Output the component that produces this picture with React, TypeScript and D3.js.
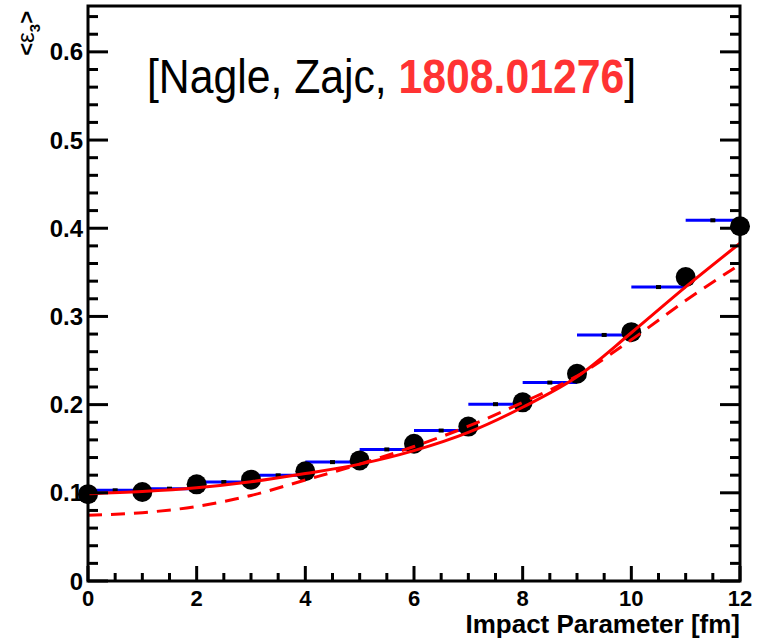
import React from "react";
import * as d3 from "d3";

// ---- data ----
const impactB = [0, 1, 2, 3, 4, 5, 6, 7, 8, 9, 10, 11, 12];
const pointEps3 = [0.0985, 0.1009, 0.1096, 0.1149, 0.1245, 0.1367, 0.1556, 0.1751, 0.2026, 0.235, 0.2822, 0.3446, 0.4023];

const histLow = [0, 1, 2, 3, 4, 5, 6, 7, 8, 9, 10, 11];
const histEps3 = [0.1028, 0.1047, 0.1122, 0.1198, 0.1348, 0.1492, 0.1706, 0.2005, 0.225, 0.279, 0.3333, 0.409];

const solidB = [0, 1, 2, 3, 4, 5, 6, 7, 8, 9, 10, 11, 12];
const solidEps3 = [0.099, 0.1015, 0.1057, 0.1125, 0.1218, 0.1325, 0.1478, 0.1685, 0.197, 0.2315, 0.2815, 0.3335, 0.383];

const dashedB = [0, 1, 2, 3, 4, 5, 6, 7, 8, 9, 10, 11, 11.9];
const dashedEps3 = [0.0745, 0.0775, 0.0845, 0.097, 0.1145, 0.1325, 0.1525, 0.1755, 0.2025, 0.2325, 0.2735, 0.318, 0.355];

const xMajorTicks = [0, 2, 4, 6, 8, 10, 12];
const yMajorTicks = [0, 0.1, 0.2, 0.3, 0.4, 0.5, 0.6];

const FONT = "'Liberation Sans', Arial, Helvetica, sans-serif";

export default function App() {
  const left = 88, right = 740, top = 6, bottom = 581;
  const x = d3.scaleLinear().domain([0, 12]).range([left, right]);
  const y = d3.scaleLinear().domain([0, 0.652]).range([bottom, top]);

  const xMinor = d3.range(0, 12.001, 0.5);
  const yMinor = d3.range(0, 0.6501, 0.02);

  const line = d3
    .line<[number, number]>()
    .x((d) => x(d[0]))
    .y((d) => y(d[1]))
    .curve(d3.curveMonotoneX);

  const solidPath = line(solidB.map((b, i) => [b, solidEps3[i]]) as [number, number][]) || "";
  const dashedPath = line(dashedB.map((b, i) => [b, dashedEps3[i]]) as [number, number][]) || "";

  return (
    <svg
      width={760}
      height={640}
      style={{ position: "absolute", left: 0, top: 0, background: "#fff" }}
      fontFamily={FONT}
    >
      <rect x={0} y={0} width={760} height={640} fill="#fff" />

      {/* histogram (blue) */}
      {histLow.map((lo, i) => (
        <g key={"h" + i}>
          <line x1={x(lo)} x2={x(lo + 1)} y1={y(histEps3[i])} y2={y(histEps3[i])} stroke="#0000ff" strokeWidth={3} />
          <rect x={x(lo + 0.5) - 2.5} y={y(histEps3[i]) - 2} width={5} height={4} fill="#000" />
        </g>
      ))}

      {/* black points */}
      {impactB.map((b, i) => (
        <circle key={"p" + i} cx={x(b)} cy={y(pointEps3[i])} r={10} fill="#000" />
      ))}

      {/* red curves */}
      <path d={dashedPath} fill="none" stroke="#ff0000" strokeWidth={3} strokeDasharray="14 9" />
      <path d={solidPath} fill="none" stroke="#ff0000" strokeWidth={3} />

      {/* frame */}
      <rect x={left} y={top} width={right - left} height={bottom - top} fill="none" stroke="#000" strokeWidth={3} />

      {/* x ticks */}
      {xMinor.map((v, i) => {
        const major = Math.abs(v - Math.round(v / 2) * 2) < 1e-6;
        return (
          <line key={"xt" + i} x1={x(v)} x2={x(v)} y1={bottom} y2={bottom - (major ? 15 : 8)} stroke="#000" strokeWidth={3} />
        );
      })}
      {/* y ticks left and right */}
      {yMinor.map((v, i) => {
        const major = Math.abs(v * 10 - Math.round(v * 10)) < 1e-6;
        const len = major ? 20 : 10;
        return (
          <g key={"yt" + i}>
            <line x1={left} x2={left + len} y1={y(v)} y2={y(v)} stroke="#000" strokeWidth={3} />
            <line x1={right} x2={right - len} y1={y(v)} y2={y(v)} stroke="#000" strokeWidth={3} />
          </g>
        );
      })}

      {/* y tick labels */}
      {yMajorTicks.map((v) => (
        <text key={"yl" + v} x={83} y={y(v)} dy="0.36em" textAnchor="end" fontSize={24} fontWeight="bold" fill="#000">
          {v === 0 ? "0" : v.toFixed(1)}
        </text>
      ))}
      {/* x tick labels */}
      {xMajorTicks.map((v) => (
        <text key={"xl" + v} x={x(v)} y={606} textAnchor="middle" fontSize={22} fontWeight="bold" fill="#000">
          {String(v)}
        </text>
      ))}

      {/* x axis title */}
      <text x={740} y={633} textAnchor="end" fontSize={26} fontWeight="bold" fill="#000">
        Impact Parameter [fm]
      </text>

      {/* y axis title */}
      <text transform="translate(34,11) rotate(-90)" textAnchor="end" fontSize={22} fontWeight="bold" fill="#000">
        <tspan>&lt;</tspan>
        <tspan fontWeight="normal" fontSize={24}>ε</tspan>
        <tspan fontSize={15} dy={6}>3</tspan>
        <tspan dy={-6}>&gt;</tspan>
      </text>

      {/* annotation */}
      <g transform="translate(147,93) scale(0.89,1)">
        <text x={0} y={0} fontSize={48} fill="#000">
          <tspan>[Nagle, Zajc, </tspan>
          <tspan fill="#ff3333" fontWeight="bold">1808.01276</tspan>
          <tspan>]</tspan>
        </text>
      </g>
    </svg>
  );
}
